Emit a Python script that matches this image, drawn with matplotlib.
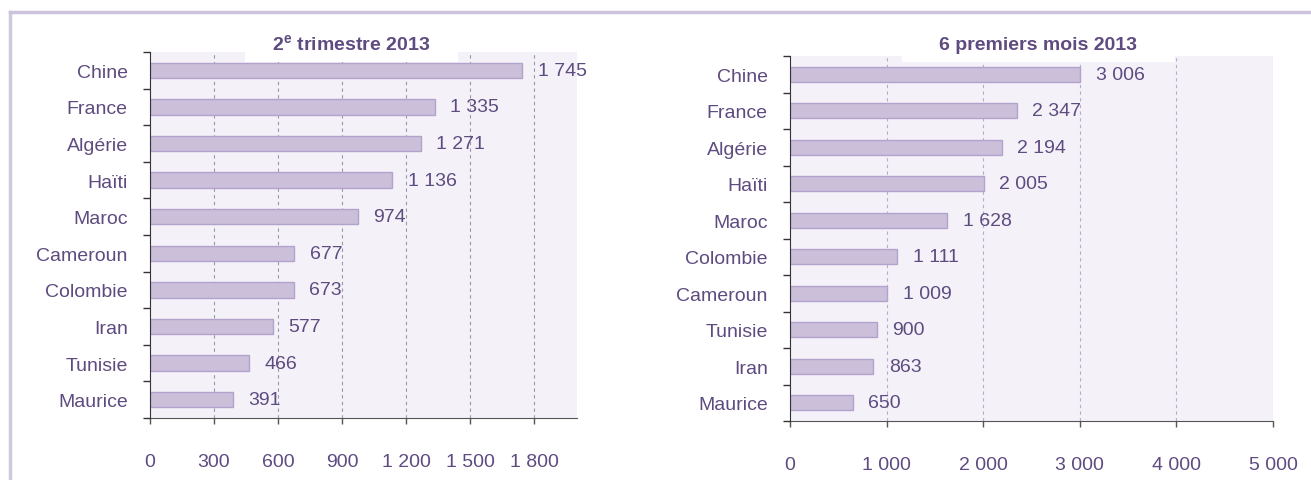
import matplotlib
matplotlib.use("Agg")
import matplotlib.pyplot as plt
from matplotlib.patches import Rectangle
from matplotlib.lines import Line2D
import numpy as np

plt.rcParams['font.family'] = ['Liberation Sans', 'DejaVu Sans']

# données
pays_t2 = ["Chine", "France", "Algérie", "Haïti", "Maroc", "Cameroun",
           "Colombie", "Iran", "Tunisie", "Maurice"]
val_t2 = [1745, 1335, 1271, 1136, 974, 677, 673, 577, 466, 391]
ticks_t2 = [0, 300, 600, 900, 1200, 1500, 1800]

pays_s1 = ["Chine", "France", "Algérie", "Haïti", "Maroc", "Colombie",
           "Cameroun", "Tunisie", "Iran", "Maurice"]
val_s1 = [3006, 2347, 2194, 2005, 1628, 1111, 1009, 900, 863, 650]
ticks_s1 = [0, 1000, 2000, 3000, 4000, 5000]

TXT = "#5E4B80"
BAR = "#CBBFDA"
EDGE = "#B3A2CB"
BG = "#F4F2F8"
FS = 14

W, H = 1311, 481
fig = plt.figure(figsize=(W / 100, H / 100), dpi=100)


def fmt(v):
    return f"{v:,}".replace(",", " ")


def draw(ax, pays, vals, ticks, xmax, bottom_dashed, grid_col):
    ax.set_facecolor(BG)
    y = np.arange(len(pays))
    ax.barh(y, vals, height=0.42, color=BAR, edgecolor=EDGE, linewidth=1, zorder=3)
    ax.set_ylim(len(pays) - 0.5, -0.5)
    ax.set_xlim(0, xmax)
    for yi, v in zip(y, vals):
        ax.annotate(fmt(v), (v, yi), xytext=(11, 0), textcoords="offset points",
                    va="center", ha="left", fontsize=FS, color=TXT)
    ax.set_yticks(y)
    ax.set_yticklabels(pays, fontsize=FS, color=TXT)
    ax.set_yticks(np.arange(len(pays) + 1) - 0.5, minor=True)
    ax.tick_params(axis="y", which="major", length=0, pad=16)
    ax.tick_params(axis="y", which="minor", length=5, width=1, color="#333333")
    ax.set_xticks(ticks)
    ax.set_xticklabels([fmt(t) for t in ticks], fontsize=FS, color=TXT)
    ax.tick_params(axis="x", length=4, width=1, color="#555555", pad=21)
    for t in ticks[1:]:
        ax.axvline(t, color=grid_col, lw=0.8, ls=(0, (3, 3)), zorder=1)
    ax.spines["top"].set_visible(False)
    ax.spines["right"].set_visible(False)
    ax.spines["left"].set_color("#333333")
    ax.spines["left"].set_zorder(5)
    ax.spines["bottom"].set_color("#555555")
    if bottom_dashed:
        ax.spines["bottom"].set_linestyle((0, (2, 1)))


ax1 = fig.add_axes([150 / W, 62 / H, 426.7 / W, 366 / H])
draw(ax1, pays_t2, val_t2, ticks_t2, 2000, True, "#9A98A8")

ax2 = fig.add_axes([790 / W, 59 / H, 483 / W, 365 / H])
draw(ax2, pays_s1, val_s1, ticks_s1, 5000, False, "#B9AAD2")

# cadres blancs des titres
for x0, x1 in [(245, 458), (902, 1175)]:
    fig.add_artist(Rectangle((x0 / W, (H - 63) / H), (x1 - x0) / W, 33 / H,
                             transform=fig.transFigure, facecolor="white",
                             edgecolor="none", zorder=5))

fig.text(351 / W, (H - 45) / H, "2$^{\\mathregular{e}}$ trimestre 2013", ha="center",
         va="center", fontsize=FS, fontweight="bold", color=TXT, zorder=6)
fig.text(1038 / W, (H - 46) / H, "6 premiers mois 2013", ha="center",
         va="center", fontsize=FS, fontweight="bold", color=TXT, zorder=6)

# cadre extérieur
fig.add_artist(Line2D([10 / W, 10 / W], [0, (H - 13) / H], transform=fig.transFigure,
                      color="#D0C8E0", lw=2.5, zorder=7))
fig.add_artist(Line2D([10 / W, 1], [(H - 13) / H, (H - 13) / H], transform=fig.transFigure,
                      color="#CCC3DD", lw=2.5, zorder=7))

fig.savefig("out.png", dpi=100)
